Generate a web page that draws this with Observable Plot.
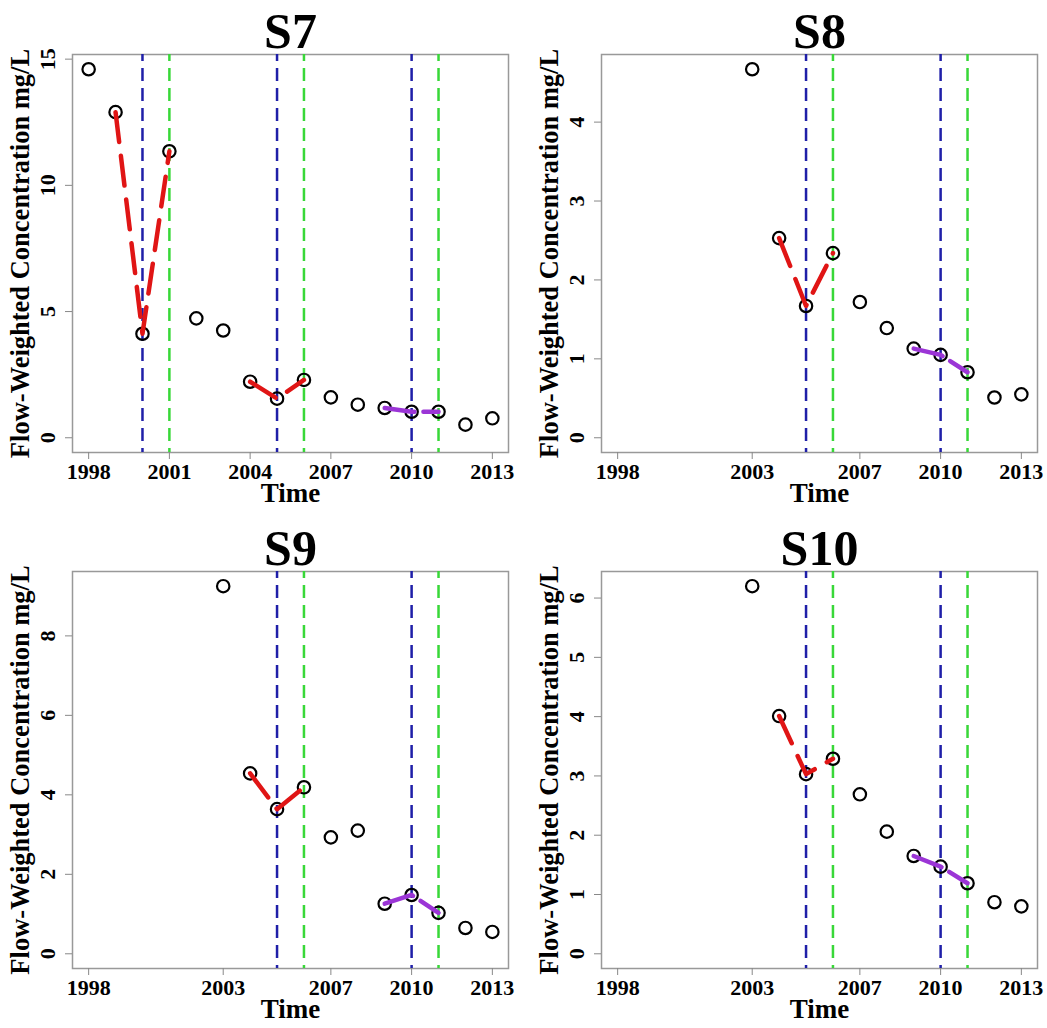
<!DOCTYPE html>
<html>
<head>
<meta charset="utf-8">
<script src="https://cdn.jsdelivr.net/npm/d3@7"></script>
<script src="https://cdn.jsdelivr.net/npm/@observablehq/plot@0.6"></script>
<style>
  html, body { margin: 0; padding: 0; background: #fff; }
  #grid { display: grid; grid-template-columns: 523px 524px; grid-template-rows: 514px 514px; width: 1047px; }
  g[aria-label="x-axis tick"], g[aria-label="y-axis tick"] { stroke: #888; }
</style>
</head>
<body>
<div id="grid"></div>
<script>
// ---- data ----
const yearsS7 = [1998, 1999, 2000, 2001, 2002, 2003, 2004, 2005, 2006, 2007, 2008, 2009, 2010, 2011, 2012, 2013];
const valuesS7 = [14.6, 12.9, 4.12, 11.35, 4.73, 4.25, 2.22, 1.55, 2.29, 1.6, 1.31, 1.18, 1.03, 1.03, 0.52, 0.77];
const yearsS8to10 = [2003, 2004, 2005, 2006, 2007, 2008, 2009, 2010, 2011, 2012, 2013];
const valuesS8 = [4.67, 2.53, 1.67, 2.34, 1.72, 1.39, 1.13, 1.05, 0.83, 0.51, 0.55];
const valuesS9 = [9.25, 4.54, 3.64, 4.19, 2.93, 3.10, 1.26, 1.48, 1.03, 0.65, 0.55];
const valuesS10 = [6.2, 4.01, 3.03, 3.29, 2.69, 2.06, 1.65, 1.47, 1.19, 0.87, 0.80];

const xTicksS7 = [1998, 2001, 2004, 2007, 2010, 2013];
const xTicksOther = [1998, 2003, 2007, 2010, 2013];
const yTicksS7 = [0, 5, 10, 15];
const yTicksS8 = [0, 1, 2, 3, 4];
const yTicksS9 = [0, 2, 4, 6, 8];
const yTicksS10 = [0, 1, 2, 3, 4, 5, 6];

const blueLinesS7 = [2000, 2005, 2010];
const greenLinesS7 = [2001, 2006, 2011];
const blueLinesOther = [2005, 2010];
const greenLinesOther = [2006, 2011];
const redSpansS7 = [[1999, 2001], [2004, 2006]];
const redSpansOther = [[2004, 2006]];
const purpleSpans = [[2009, 2011]];

const FONT = "'Liberation Serif', 'Times New Roman', serif";

function extend(lo, hi) { const d = (hi - lo) * 0.04; return [lo - d, hi + d]; }

function panel(o) {
  const data = o.years.map((year, i) => ({year, value: o.values[i]}));
  const seg = spans => spans.map(([a, b]) => data.filter(d => d.year >= a && d.year <= b));
  const marks = [
    Plot.frame({stroke: "#999", strokeWidth: 1.5}),
    Plot.ruleX(o.blue, {stroke: "#1f1fa8", strokeWidth: 2.5, strokeDasharray: "13,7", strokeDashoffset: 6}),
    Plot.ruleX(o.green, {stroke: "#38d838", strokeWidth: 2.5, strokeDasharray: "13,7", strokeDashoffset: 6}),
    Plot.dot(data, {x: "year", y: "value", r: 6.2, stroke: "black", strokeWidth: 2.2, fill: "none"}),
    ...seg(o.red).map(s => Plot.line(s, {x: "year", y: "value", stroke: "#e01515", strokeWidth: 4.5, strokeDasharray: "30,14"})),
    ...seg(o.purple).map(s => Plot.line(s, {x: "year", y: "value", stroke: "#9b35d6", strokeWidth: 4.5, strokeDasharray: "30,9"})),
    Plot.axisX({ticks: o.xTicks, tickSize: 7, tickFormat: () => "", label: null}),
    Plot.text(o.xTicks, {x: d => d, frameAnchor: "bottom", dy: 19, text: d => String(d), fontSize: 22, fontWeight: "bold", textAnchor: "middle", lineAnchor: "middle"}),
    Plot.axisY({ticks: o.yTicks, tickSize: 7, tickFormat: () => "", label: null}),
    Plot.text(o.yTicks, {y: d => d, frameAnchor: "left", dx: -25, rotate: -90, text: d => String(d), fontSize: 22, fontWeight: "bold", textAnchor: "middle", lineAnchor: "middle"}),
    Plot.text(["Flow-Weighted Concentration mg/L"], {frameAnchor: "left", dx: -52, rotate: -90, fontSize: 26.5, fontWeight: "bold", textAnchor: "middle", lineAnchor: "middle"}),
    Plot.text(["Time"], {frameAnchor: "bottom", dy: 41, fontSize: 27, fontWeight: "bold", textAnchor: "middle", lineAnchor: "middle"}),
    Plot.text([o.title], {frameAnchor: "top", dy: -23, fontSize: 50, fontWeight: "bold", textAnchor: "middle", lineAnchor: "middle"})
  ];
  return Plot.plot({
    width: o.width, height: 514,
    marginLeft: o.ml, marginRight: o.mr, marginTop: o.mt, marginBottom: o.mb,
    style: {fontFamily: FONT, background: "white", color: "black", overflow: "visible"},
    x: {domain: extend(1998, 2013), axis: null},
    y: {domain: extend(0, d3.max(o.values)), axis: null},
    marks
  });
}

const grid = document.getElementById("grid");
grid.append(panel({title: "S7", years: yearsS7, values: valuesS7, xTicks: xTicksS7, yTicks: yTicksS7,
  blue: blueLinesS7, green: greenLinesS7, red: redSpansS7, purple: purpleSpans, width: 523, ml: 72, mr: 15, mt: 54, mb: 62}));
grid.append(panel({title: "S8", years: yearsS8to10, values: valuesS8, xTicks: xTicksOther, yTicks: yTicksS8,
  blue: blueLinesOther, green: greenLinesOther, red: redSpansOther, purple: purpleSpans, width: 524, ml: 78, mr: 10, mt: 54, mb: 62}));
grid.append(panel({title: "S9", years: yearsS8to10, values: valuesS9, xTicks: xTicksOther, yTicks: yTicksS9,
  blue: blueLinesOther, green: greenLinesOther, red: redSpansOther, purple: purpleSpans, width: 523, ml: 72, mr: 15, mt: 57, mb: 60}));
grid.append(panel({title: "S10", years: yearsS8to10, values: valuesS10, xTicks: xTicksOther, yTicks: yTicksS10,
  blue: blueLinesOther, green: greenLinesOther, red: redSpansOther, purple: purpleSpans, width: 524, ml: 78, mr: 10, mt: 57, mb: 60}));
</script>
</body>
</html>
